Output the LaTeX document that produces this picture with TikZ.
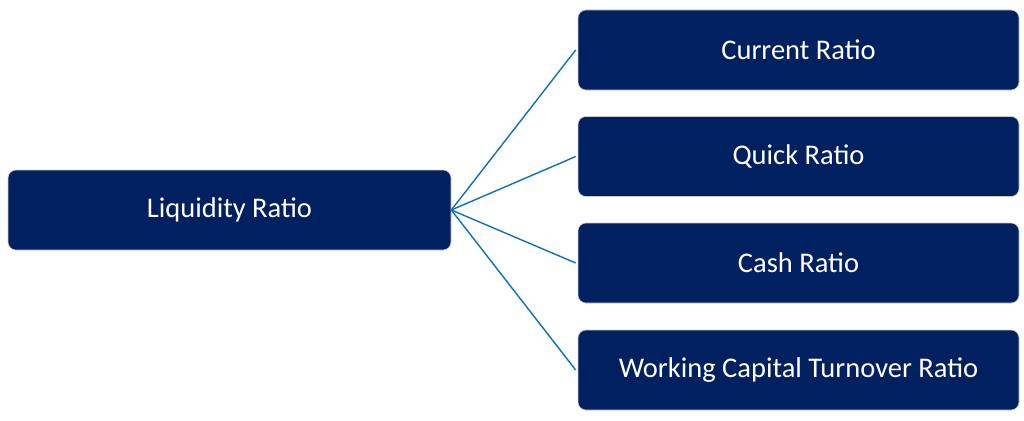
\documentclass[tikz,border=0pt]{standalone}
\usepackage{fontspec}
\setmainfont{Carlito}
\definecolor{navy}{RGB}{0,32,96}
\definecolor{linkblue}{RGB}{14,112,182}
\begin{document}
\begin{tikzpicture}[x=1pt,y=-1pt,
  box/.style={draw=gray!40,line width=0.6pt,fill=navy,rounded corners=8pt,text=white,font=\fontsize{28.5}{32}\selectfont,minimum height=80pt,inner sep=0pt},
  link/.style={draw=linkblue,line width=1.4pt}]
\useasboundingbox (0,0) rectangle (1024,420);
\node[box,minimum width=443pt] (root) at (229.5,210) {Liquidity Ratio};
\node[box,minimum width=441pt] (c1) at (798.5,50) {Current Ratio};
\node[box,minimum width=441pt] (c2) at (798.5,156.5) {Quick Ratio};
\node[box,minimum width=441pt] (c3) at (798.5,263) {Cash Ratio};
\node[box,minimum width=441pt] (c4) at (798.5,370) {Working Capital Turnover Ratio};
\foreach \c in {c1,c2,c3,c4}{
  \draw[link] (root.east) -- ([xshift=-2pt]\c.west);
}
\end{tikzpicture}
\end{document}
